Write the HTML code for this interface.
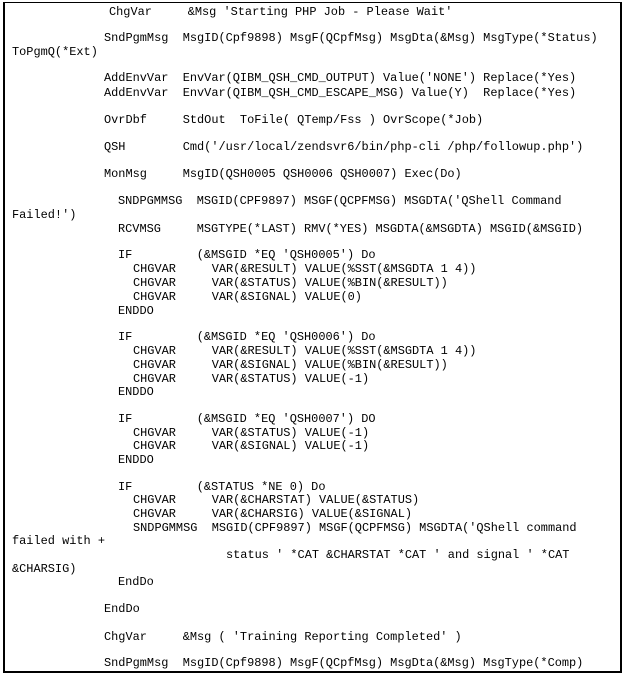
<!DOCTYPE html>
<html><head><meta charset="utf-8"><style>
html,body{margin:0;padding:0;background:#fff;width:624px;height:677px;overflow:hidden}
#box{position:absolute;left:3px;top:2px;width:615px;height:668px;border:2px solid #000;border-top-width:1px}
.l{position:absolute;white-space:pre;font-family:"Liberation Mono",monospace;font-size:11.93px;line-height:14px;color:#000}
</style></head><body>
<div id="box"></div>
<div class="l" style="left:109px;top:5px">ChgVar     &amp;Msg 'Starting PHP Job - Please Wait'</div>
<div class="l" style="left:104px;top:31px">SndPgmMsg  MsgID(Cpf9898) MsgF(QCpfMsg) MsgDta(&amp;Msg) MsgType(*Status)</div>
<div class="l" style="left:12px;top:45px">ToPgmQ(*Ext)</div>
<div class="l" style="left:104px;top:71px">AddEnvVar  EnvVar(QIBM_QSH_CMD_OUTPUT) Value('NONE') Replace(*Yes)</div>
<div class="l" style="left:104px;top:86px">AddEnvVar  EnvVar(QIBM_QSH_CMD_ESCAPE_MSG) Value(Y)  Replace(*Yes)</div>
<div class="l" style="left:104px;top:113px">OvrDbf     StdOut  ToFile( QTemp/Fss ) OvrScope(*Job)</div>
<div class="l" style="left:104px;top:140px">QSH        Cmd('/usr/local/zendsvr6/bin/php-cli /php/followup.php')</div>
<div class="l" style="left:104px;top:167px">MonMsg     MsgID(QSH0005 QSH0006 QSH0007) Exec(Do)</div>
<div class="l" style="left:118px;top:194px">SNDPGMMSG  MSGID(CPF9897) MSGF(QCPFMSG) MSGDTA('QShell Command</div>
<div class="l" style="left:12px;top:208px">Failed!')</div>
<div class="l" style="left:118px;top:222px">RCVMSG     MSGTYPE(*LAST) RMV(*YES) MSGDTA(&amp;MSGDTA) MSGID(&amp;MSGID)</div>
<div class="l" style="left:118px;top:248px">IF         (&amp;MSGID *EQ 'QSH0005') Do</div>
<div class="l" style="left:133px;top:262px">CHGVAR     VAR(&amp;RESULT) VALUE(%SST(&amp;MSGDTA 1 4))</div>
<div class="l" style="left:133px;top:276px">CHGVAR     VAR(&amp;STATUS) VALUE(%BIN(&amp;RESULT))</div>
<div class="l" style="left:133px;top:290px">CHGVAR     VAR(&amp;SIGNAL) VALUE(0)</div>
<div class="l" style="left:118px;top:304px">ENDDO</div>
<div class="l" style="left:118px;top:330px">IF         (&amp;MSGID *EQ 'QSH0006') Do</div>
<div class="l" style="left:133px;top:344px">CHGVAR     VAR(&amp;RESULT) VALUE(%SST(&amp;MSGDTA 1 4))</div>
<div class="l" style="left:133px;top:358px">CHGVAR     VAR(&amp;SIGNAL) VALUE(%BIN(&amp;RESULT))</div>
<div class="l" style="left:133px;top:372px">CHGVAR     VAR(&amp;STATUS) VALUE(-1)</div>
<div class="l" style="left:118px;top:385px">ENDDO</div>
<div class="l" style="left:118px;top:412px">IF         (&amp;MSGID *EQ 'QSH0007') DO</div>
<div class="l" style="left:133px;top:426px">CHGVAR     VAR(&amp;STATUS) VALUE(-1)</div>
<div class="l" style="left:133px;top:439px">CHGVAR     VAR(&amp;SIGNAL) VALUE(-1)</div>
<div class="l" style="left:118px;top:453px">ENDDO</div>
<div class="l" style="left:118px;top:480px">IF         (&amp;STATUS *NE 0) Do</div>
<div class="l" style="left:133px;top:493px">CHGVAR     VAR(&amp;CHARSTAT) VALUE(&amp;STATUS)</div>
<div class="l" style="left:133px;top:507px">CHGVAR     VAR(&amp;CHARSIG) VALUE(&amp;SIGNAL)</div>
<div class="l" style="left:133px;top:521px">SNDPGMMSG  MSGID(CPF9897) MSGF(QCPFMSG) MSGDTA('QShell command</div>
<div class="l" style="left:12px;top:534px">failed with +</div>
<div class="l" style="left:226px;top:548px">status ' *CAT &amp;CHARSTAT *CAT ' and signal ' *CAT</div>
<div class="l" style="left:12px;top:562px">&amp;CHARSIG)</div>
<div class="l" style="left:118px;top:575px">EndDo</div>
<div class="l" style="left:104px;top:602px">EndDo</div>
<div class="l" style="left:104px;top:630px">ChgVar     &amp;Msg ( 'Training Reporting Completed' )</div>
<div class="l" style="left:104px;top:656px">SndPgmMsg  MsgID(Cpf9898) MsgF(QCpfMsg) MsgDta(&amp;Msg) MsgType(*Comp)</div>
</body></html>
